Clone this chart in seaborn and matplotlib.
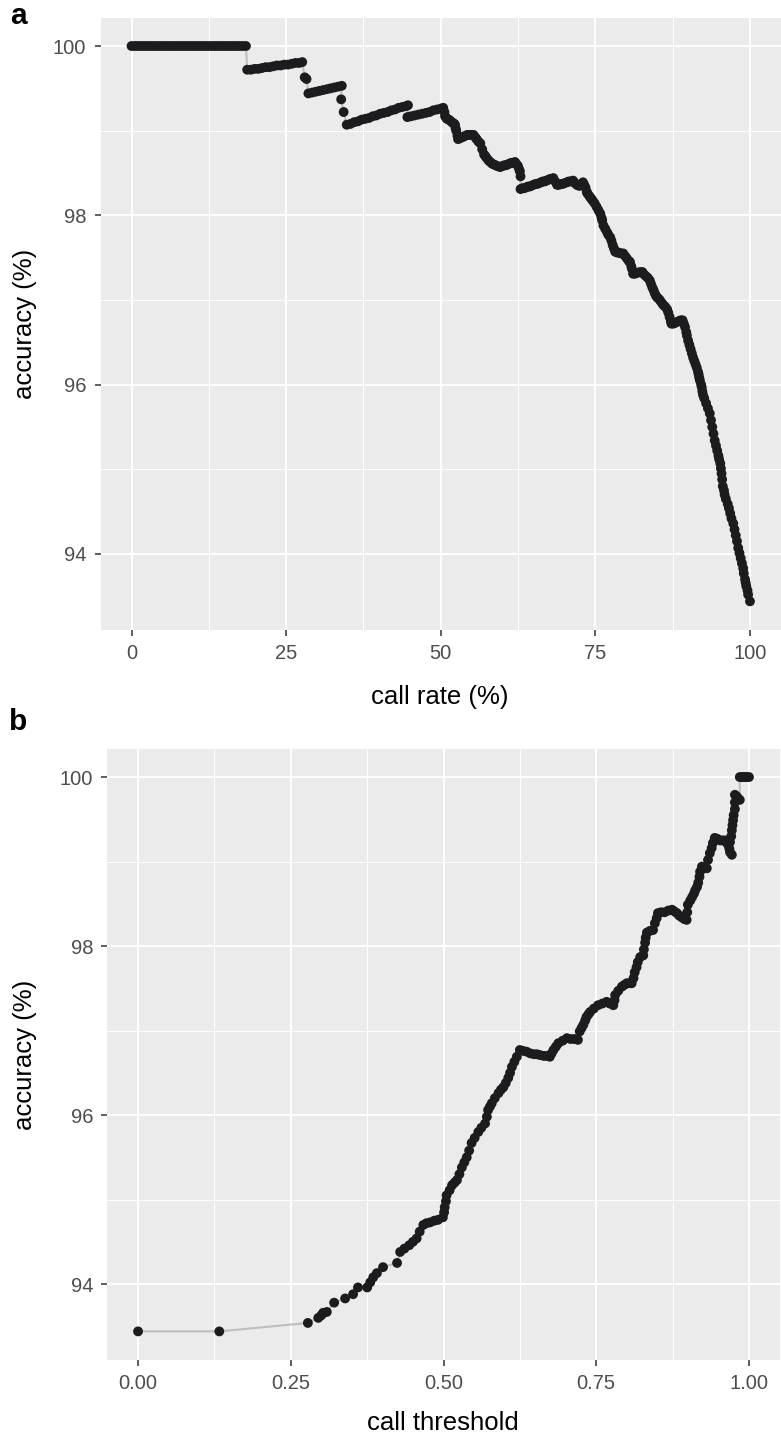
import matplotlib
matplotlib.use("Agg")
import matplotlib.pyplot as plt
from matplotlib.ticker import FixedLocator
import seaborn as sns
import pandas as pd

# ---------------- data ----------------
# panel a: accuracy versus call rate
call_rate = [
    0.0, 0.5, 1.0, 1.5, 2.0, 2.5, 3.0, 3.5, 4.0, 4.5, 5.0, 5.5, 6.0, 6.5, 7.0, 7.5, 8.0, 8.5, 9.0,
    9.5, 10.0, 10.5, 11.0, 11.5, 12.0, 12.5, 13.0, 13.5, 14.0, 14.5, 15.0, 15.5, 16.0, 16.5, 17.0,
    17.5, 18.0, 18.5,
    18.7, 19.3, 19.9, 20.5, 21.1, 21.7, 22.3, 22.9, 23.5, 24.1, 24.7, 25.3, 25.9, 26.5, 27.1, 27.6,
    28.0, 28.3,
    28.6, 29.2, 29.8, 30.4, 31.0, 31.6, 32.2, 32.8, 33.4, 34.0,
    33.9, 34.3,
    34.8, 35.4, 36.0, 36.6, 37.2, 37.8, 38.4, 39.0, 39.6, 40.2, 40.8, 41.4, 42.0, 42.6, 43.2, 43.8,
    44.4, 44.7,
    44.6, 45.2, 45.8, 46.4, 47.0, 47.6, 48.2, 48.8, 49.4, 50.0, 50.4,
    50.6, 50.7, 50.9, 51.0, 51.3, 51.5, 51.8, 52.0, 52.2, 52.3, 52.4, 52.5, 52.7, 52.8, 53.1, 53.4,
    53.7, 54.0, 54.3, 54.6, 55.0, 55.3, 55.6, 55.8, 56.1, 56.4, 56.7, 57.0, 57.2, 57.4, 57.7, 58.0,
    58.3, 58.6, 58.9, 59.2, 59.6, 59.9, 60.2, 60.5, 60.8, 61.1, 61.4, 61.7, 62.0, 62.3, 62.5, 62.7,
    62.8, 62.9,
    62.9, 63.2, 63.5, 63.8, 64.1, 64.4, 64.7, 65.0, 65.3, 65.6, 65.9, 66.2, 66.5, 66.8, 67.1, 67.4,
    67.7, 68.0, 68.2, 68.5, 68.8, 69.1, 69.4, 69.7, 70.0, 70.4, 70.7, 71.0, 71.4, 71.7, 72.0, 72.3,
    72.5, 72.8,
    73.0, 73.2, 73.4, 73.6, 73.7, 74.0, 74.2, 74.4, 74.6, 74.9, 75.2, 75.5, 75.8, 76.0, 76.1, 76.3,
    76.6, 76.9, 77.1, 77.4, 77.6, 77.8, 78.0, 78.2, 78.5, 78.8, 79.1, 79.5, 79.8, 80.1, 80.4, 80.6,
    80.8, 80.9, 81.1, 81.4, 81.8, 82.2, 82.6, 82.9, 83.2, 83.5, 83.8, 84.0, 84.2, 84.4, 84.6, 84.8,
    85.0, 85.3, 85.5, 85.8, 86.0, 86.3, 86.6, 86.8, 87.0, 87.2, 87.3, 87.6, 87.9, 88.2, 88.5, 88.8,
    89.1, 89.3, 89.5, 89.7, 89.8, 90.0, 90.2, 90.4, 90.6, 90.8, 91.0, 91.2, 91.4, 91.6, 91.7, 91.8,
    91.9, 92.1, 92.2, 92.3, 92.4, 92.6, 92.9, 93.2, 93.5, 93.7, 93.9, 94.1, 94.3, 94.5, 94.7, 94.9,
    95.0, 95.2, 95.3, 95.4, 95.5, 95.6, 95.8, 95.9, 96.1, 96.4, 96.6, 96.8, 97.0, 97.3, 97.5, 97.7,
    97.9, 98.1, 98.3, 98.5, 98.7, 98.9, 99.0, 99.2, 99.3, 99.4, 99.6, 99.7, 100.0,
]
acc_rate = [
    100.0, 100.0, 100.0, 100.0, 100.0, 100.0, 100.0, 100.0, 100.0, 100.0, 100.0, 100.0, 100.0,
    100.0, 100.0, 100.0, 100.0, 100.0, 100.0, 100.0, 100.0, 100.0, 100.0, 100.0, 100.0, 100.0,
    100.0, 100.0, 100.0, 100.0, 100.0, 100.0, 100.0, 100.0, 100.0, 100.0, 100.0, 100.0,
    99.72, 99.72, 99.73, 99.73, 99.74, 99.75, 99.75, 99.76, 99.77, 99.77, 99.78, 99.78, 99.79,
    99.80, 99.80, 99.81,
    99.63, 99.61,
    99.44, 99.45, 99.46, 99.47, 99.48, 99.49, 99.50, 99.51, 99.52, 99.53,
    99.37, 99.22,
    99.07, 99.08, 99.10, 99.11, 99.13, 99.14, 99.15, 99.17, 99.18, 99.20, 99.21, 99.22, 99.24,
    99.25, 99.27, 99.28, 99.29, 99.30,
    99.16, 99.17, 99.18, 99.19, 99.20, 99.21, 99.22, 99.24, 99.25, 99.26, 99.27,
    99.22, 99.17, 99.15, 99.14, 99.13, 99.12, 99.10, 99.09, 99.08, 99.07, 99.03, 99.00, 98.94,
    98.90, 98.91, 98.92, 98.93, 98.94, 98.95, 98.95, 98.95, 98.95, 98.92, 98.90, 98.87, 98.85,
    98.78, 98.72, 98.70, 98.68, 98.65, 98.63, 98.61, 98.60, 98.59, 98.58, 98.57, 98.58, 98.59,
    98.59, 98.60, 98.61, 98.62, 98.62, 98.63, 98.60, 98.58, 98.54, 98.52, 98.46,
    98.31, 98.32, 98.32, 98.33, 98.34, 98.34, 98.35, 98.36, 98.37, 98.37, 98.38, 98.39, 98.40,
    98.40, 98.41, 98.42, 98.43, 98.43, 98.44, 98.40, 98.36, 98.36, 98.37, 98.37, 98.38, 98.39,
    98.40, 98.40, 98.41, 98.38, 98.36, 98.35, 98.35, 98.37,
    98.39, 98.36, 98.33, 98.28, 98.26, 98.23, 98.21, 98.19, 98.17, 98.14, 98.10, 98.06, 98.02,
    97.97, 97.94, 97.88, 97.84, 97.80, 97.77, 97.74, 97.70, 97.65, 97.61, 97.57, 97.56, 97.56,
    97.55, 97.55, 97.52, 97.49, 97.46, 97.45, 97.40, 97.37, 97.31, 97.31, 97.32, 97.33, 97.33,
    97.30, 97.28, 97.26, 97.23, 97.19, 97.15, 97.12, 97.08, 97.05, 97.03, 97.01, 96.99, 96.96,
    96.94, 96.92, 96.89, 96.85, 96.80, 96.75, 96.72, 96.72, 96.73, 96.74, 96.75, 96.76, 96.76,
    96.72, 96.68, 96.62, 96.58, 96.52, 96.47, 96.42, 96.37, 96.32, 96.28, 96.24, 96.20, 96.15,
    96.12, 96.08, 96.05, 96.00, 95.97, 95.92, 95.88, 95.84, 95.78, 95.72, 95.66, 95.58, 95.50,
    95.42, 95.34, 95.28, 95.22, 95.16, 95.12, 95.07, 95.01, 94.95, 94.88, 94.80, 94.75, 94.70,
    94.65, 94.59, 94.54, 94.48, 94.42, 94.36, 94.29, 94.22, 94.15, 94.07, 94.01, 93.95, 93.89,
    93.83, 93.77, 93.70, 93.66, 93.62, 93.57, 93.52, 93.44,
]

# panel b: accuracy versus call threshold
threshold = [
    0.000, 0.133, 0.278, 0.295, 0.300, 0.303, 0.309, 0.321, 0.339, 0.352, 0.360, 0.375, 0.380,
    0.385, 0.391, 0.401, 0.424, 0.429, 0.436, 0.444, 0.450, 0.456, 0.461, 0.467, 0.472, 0.478,
    0.485, 0.491, 0.499, 0.501, 0.502, 0.504, 0.505, 0.510, 0.514, 0.518, 0.522, 0.526, 0.530,
    0.534, 0.538, 0.542, 0.546, 0.551, 0.557, 0.562, 0.568, 0.571, 0.573, 0.576, 0.579, 0.584,
    0.590, 0.594, 0.598, 0.602, 0.606, 0.609, 0.612, 0.616, 0.620, 0.625, 0.630, 0.636, 0.642,
    0.648, 0.653, 0.658, 0.664, 0.669, 0.674, 0.677, 0.680, 0.684, 0.688, 0.695, 0.702, 0.708,
    0.714, 0.720, 0.723, 0.726, 0.729, 0.732, 0.734, 0.737, 0.740, 0.746, 0.753, 0.760, 0.767,
    0.772, 0.778, 0.780, 0.781, 0.786, 0.792, 0.796, 0.800, 0.804, 0.808, 0.811, 0.813, 0.816,
    0.818, 0.822, 0.827, 0.828, 0.830, 0.831, 0.833, 0.838, 0.843, 0.846, 0.849, 0.851, 0.856,
    0.862, 0.868, 0.874, 0.878, 0.882, 0.886, 0.890, 0.894, 0.898, 0.899, 0.900, 0.904, 0.907,
    0.910, 0.912, 0.915, 0.917, 0.919, 0.920, 0.923, 0.927, 0.931, 0.933, 0.936, 0.939, 0.941,
    0.944, 0.948, 0.953, 0.957, 0.961, 0.964, 0.966, 0.968, 0.969, 0.972, 0.969, 0.971, 0.972,
    0.973, 0.974, 0.975, 0.977, 0.977, 0.977, 0.980, 0.982, 0.985, 0.985, 0.988, 0.991, 0.994,
    0.997, 1.000,
]
acc_thr = [
    93.44, 93.44, 93.54, 93.60, 93.63, 93.66, 93.67, 93.78, 93.83, 93.88, 93.96, 93.96, 94.02,
    94.08, 94.13, 94.20, 94.25, 94.38, 94.42, 94.46, 94.50, 94.54, 94.62, 94.70, 94.72, 94.73,
    94.75, 94.76, 94.79, 94.85, 94.91, 94.98, 95.05, 95.11, 95.17, 95.20, 95.23, 95.30, 95.38,
    95.44, 95.50, 95.58, 95.67, 95.73, 95.80, 95.85, 95.90, 95.98, 96.06, 96.10, 96.14, 96.20,
    96.26, 96.30, 96.33, 96.38, 96.44, 96.50, 96.57, 96.63, 96.69, 96.77, 96.76, 96.75, 96.73,
    96.72, 96.72, 96.71, 96.70, 96.70, 96.69, 96.73, 96.77, 96.81, 96.85, 96.88, 96.91, 96.90,
    96.90, 96.89, 96.99, 97.03, 97.07, 97.12, 97.16, 97.19, 97.22, 97.26, 97.30, 97.32, 97.34,
    97.32, 97.30, 97.36, 97.42, 97.47, 97.52, 97.54, 97.56, 97.56, 97.56, 97.62, 97.69, 97.75,
    97.81, 97.87, 97.89, 97.96, 98.04, 98.10, 98.16, 98.18, 98.19, 98.27, 98.33, 98.39, 98.40,
    98.40, 98.42, 98.43, 98.41, 98.39, 98.36, 98.34, 98.32, 98.31, 98.40, 98.49, 98.54, 98.58,
    98.62, 98.66, 98.70, 98.75, 98.82, 98.88, 98.94, 98.93, 98.92, 99.02, 99.10, 99.16, 99.22,
    99.28, 99.27, 99.25, 99.25, 99.25, 99.22, 99.20, 99.15, 99.11, 99.08, 99.23, 99.30, 99.37,
    99.43, 99.49, 99.55, 99.62, 99.70, 99.79, 99.77, 99.75, 99.73, 100.0, 100.0, 100.0, 100.0,
    100.0, 100.0,
]

y_ticks = [94, 96, 98, 100]
rate_ticks = [0, 25, 50, 75, 100]
rate_labels = ["0", "25", "50", "75", "100"]
thr_ticks = [0.0, 0.25, 0.5, 0.75, 1.0]
thr_labels = ["0.00", "0.25", "0.50", "0.75", "1.00"]

# ---------------- style ----------------
sns.set_theme(style="darkgrid")
plt.rcParams["font.family"] = ["Liberation Sans", "DejaVu Sans"]

W, H = 781, 1439
fig = plt.figure(figsize=(W / 100, H / 100), dpi=100)

PANEL_BG = "#EBEBEB"
POINT = "#1C1C1E"
LINE = "#BEBEBE"
TICK_TXT = "#4D4D4D"


def px_axes(x0, x1, y0, y1):
    return fig.add_axes([x0 / W, 1 - y1 / H, (x1 - x0) / W, (y1 - y0) / H])


def style(ax, xticks, xlabels, xminor, yminor):
    ax.set_facecolor(PANEL_BG)
    for s in ax.spines.values():
        s.set_visible(False)
    ax.set_xticks(xticks)
    ax.set_xticklabels(xlabels)
    ax.set_yticks(y_ticks)
    ax.set_yticklabels([str(t) for t in y_ticks])
    ax.xaxis.set_minor_locator(FixedLocator(xminor))
    ax.yaxis.set_minor_locator(FixedLocator(yminor))
    ax.grid(which="major", color="white", linewidth=1.4)
    ax.grid(which="minor", color="white", linewidth=0.7)
    ax.set_axisbelow(True)
    ax.tick_params(which="major", length=4.3, width=1.1, color="#333333",
                   labelsize=14.5, labelcolor=TICK_TXT, left=True, bottom=True)
    ax.tick_params(axis="y", pad=6)
    ax.tick_params(axis="x", pad=6)
    ax.tick_params(which="minor", length=0)
    ax.set_xlabel("")
    ax.set_ylabel("")


# ---------------- panel a ----------------
ax1 = px_axes(100.6, 780.9, 18.2, 630)
df_a = pd.DataFrame({"rate": call_rate, "acc": acc_rate})
sns.lineplot(data=df_a, x="rate", y="acc", sort=False, estimator=None,
             color=LINE, linewidth=1.5, ax=ax1, zorder=2)
sns.scatterplot(data=df_a, x="rate", y="acc", color=POINT, s=50,
                edgecolor="none", linewidth=0, ax=ax1, zorder=3)
ax1.set_xlim(-5, 105)
ax1.set_ylim(93.1015, 100.3285)
style(ax1, rate_ticks, rate_labels, [12.5, 37.5, 62.5, 87.5], [95, 97, 99])

# ---------------- panel b ----------------
ax2 = px_axes(107.5, 779.5, 749.3, 1360)
df_b = pd.DataFrame({"thr": threshold, "acc": acc_thr})
sns.lineplot(data=df_b, x="thr", y="acc", sort=False, estimator=None,
             color=LINE, linewidth=1.5, ax=ax2, zorder=2)
sns.scatterplot(data=df_b, x="thr", y="acc", color=POINT, s=50,
                edgecolor="none", linewidth=0, ax=ax2, zorder=3)
ax2.set_xlim(-0.05, 1.05)
ax2.set_ylim(93.1015, 100.3285)
style(ax2, thr_ticks, thr_labels, [0.125, 0.375, 0.625, 0.875], [95, 97, 99])

# ---------------- titles & panel tags ----------------
def ftext(x, y, s, **kw):
    fig.text(x / W, 1 - y / H, s, **kw)

ftext(440, 697, "call rate (%)", ha="center", va="center", fontsize=18.5, color="black")
ftext(443, 1423, "call threshold", ha="center", va="center", fontsize=18.5, color="black")
ftext(25, 324, "accuracy (%)", ha="center", va="center", fontsize=18.5, rotation=90, color="black")
ftext(25, 1055, "accuracy (%)", ha="center", va="center", fontsize=18.5, rotation=90, color="black")
ftext(18, 16, "a", ha="center", va="center", fontsize=21.5, fontweight="bold", color="black")
ftext(18, 722, "b", ha="center", va="center", fontsize=21.5, fontweight="bold", color="black")

fig.savefig("out.png", dpi=100)
